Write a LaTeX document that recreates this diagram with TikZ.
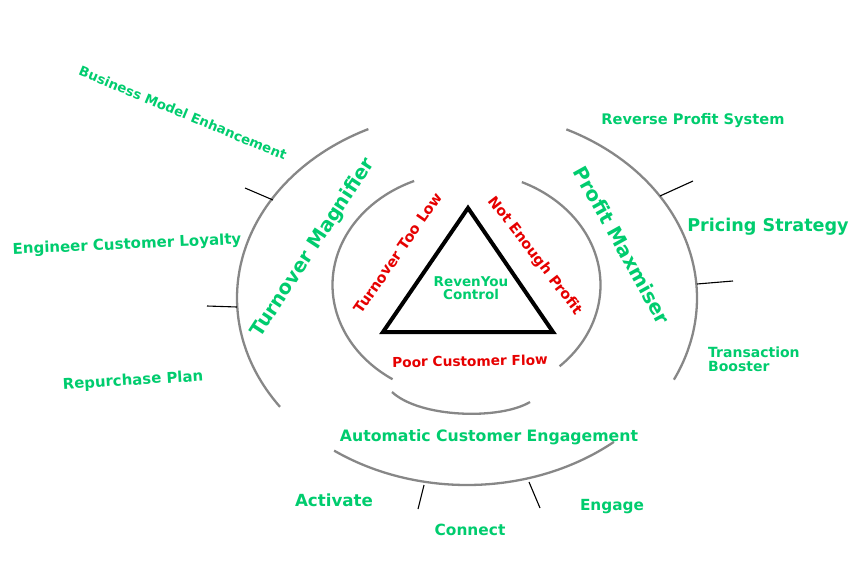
\documentclass[tikz,border=0pt]{standalone}
\usepackage{fontspec}
\setmainfont{DejaVu Sans}
\definecolor{tgreen}{RGB}{0,204,110}
\definecolor{tred}{RGB}{230,0,0}
\definecolor{arcgrey}{RGB}{135,135,135}
\newcommand{\fsz}[1]{\fontsize{#1}{#1}\selectfont}
\begin{document}
\begin{tikzpicture}[x=1pt,y=-1pt,
  arcline/.style={draw=arcgrey, line width=2.3pt},
  tickline/.style={draw=black, line width=1.1pt},
  gtxt/.style={text=tgreen, inner sep=0pt, font=\bfseries\fsz{14}},
  rtxt/.style={text=tred, inner sep=0pt, font=\bfseries\fsz{13.5}},
  bigtxt/.style={text=tgreen, inner sep=0pt, font=\bfseries\fsz{19.5}}
]
\useasboundingbox (0,0) rectangle (867,571);

% outer ellipse arcs
\draw[arcline] plot[domain=144.4:244.6, samples=80] ({467+230*cos(\x)}, {298+187*sin(\x)});
\draw[arcline] plot[domain=-64.4:25.9, samples=80] ({467+230*cos(\x)}, {298+187*sin(\x)});
\draw[arcline] plot[domain=50.3:125.3, samples=80] ({467+230*cos(\x)}, {298+187*sin(\x)});

% inner arcs
\draw[arcline] plot[domain=123.5:247, samples=80] ({466.5+134*cos(\x)}, {285+113*sin(\x)});
\draw[arcline] plot[domain=-65.6:46, samples=80] ({466.5+134*cos(\x)}, {285+113*sin(\x)});
\coordinate (ib1) at (392,392);
\coordinate (ib2) at (530,402);
\draw[arcline] (ib1) .. controls (420,418) and (500,420) .. (ib2);

% ticks
\coordinate (t1a) at (273,200); \coordinate (t1b) at (245,188);
\coordinate (t2a) at (237,307); \coordinate (t2b) at (207,306);
\coordinate (t3a) at (660,196); \coordinate (t3b) at (693,181);
\coordinate (t4a) at (697,284); \coordinate (t4b) at (733,281);
\coordinate (t5a) at (424,485); \coordinate (t5b) at (418,509);
\coordinate (t6a) at (529,482); \coordinate (t6b) at (540,508);
\draw[tickline] (t1a) -- (t1b);
\draw[tickline] (t2a) -- (t2b);
\draw[tickline] (t3a) -- (t3b);
\draw[tickline] (t4a) -- (t4b);
\draw[tickline] (t5a) -- (t5b);
\draw[tickline] (t6a) -- (t6b);

% triangle
\coordinate (tA) at (468,208);
\coordinate (tB) at (383,332);
\coordinate (tC) at (553,332);
\draw[line width=4pt, line join=miter] (tA) -- (tB) -- (tC) -- cycle;

% texts
\node[gtxt, font=\bfseries\fsz{13.3}, rotate=-22.5] (bme) at (183,113) {Business Model Enhancement};
\node[gtxt, font=\bfseries\fsz{15}, rotate=2.5] (ecl) at (127,245) {Engineer Customer Loyalty};
\node[gtxt, font=\bfseries\fsz{14.9}, rotate=3.5] (rp) at (133,381) {Repurchase Plan};
\node[bigtxt, rotate=56.8] (tm) at (313,248) {Turnover Magnifier};
\node[bigtxt, font=\bfseries\fsz{19.7}, rotate=-61] (pm) at (622,245) {Profit Maxmiser};
\node[rtxt, font=\bfseries\fsz{14.5}, rotate=55.3] (ttl) at (398,253) {Turnover Too Low};
\node[rtxt, font=\bfseries\fsz{14.4}, rotate=-52.4] (nep) at (535,256) {Not Enough Profit};
\node[gtxt, font=\bfseries\fsz{13.5}, align=center, text width=90pt] (rc) at (471,288) {\baselineskip=16pt RevenYou\\Control};
\node[rtxt, font=\bfseries\fsz{13.7}, rotate=1] (pcf) at (470,361) {Poor Customer Flow};
\node[gtxt, font=\bfseries\fsz{15.7}] (ace) at (489,437) {Automatic Customer Engagement};
\node[gtxt, font=\bfseries\fsz{16.7}] (act) at (334,500) {Activate};
\node[gtxt, font=\bfseries\fsz{15.4}] (con) at (470,530) {Connect};
\node[gtxt, font=\bfseries\fsz{15.3}] (eng) at (612,507) {Engage};
\node[gtxt, font=\bfseries\fsz{14.6}] (rps) at (693,121) {Reverse Profit System};
\node[gtxt, font=\bfseries\fsz{17.6}] (ps) at (768,227) {Pricing Strategy};
\node[gtxt, font=\bfseries\fsz{14}, align=left, anchor=west] (tb) at (708,359) {\baselineskip=16pt Transaction\\Booster};
\end{tikzpicture}
\end{document}
